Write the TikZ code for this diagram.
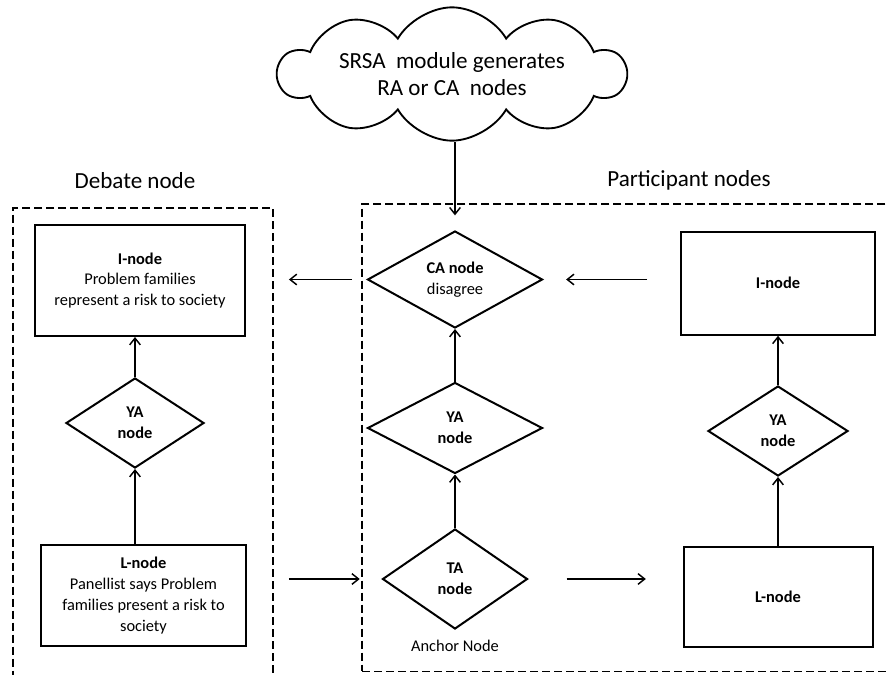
\documentclass[tikz,border=0pt]{standalone}
\usepackage{fontspec}
\setmainfont{Carlito}
\usetikzlibrary{shapes.geometric, shapes.symbols, arrows.meta, positioning}

\begin{document}
\begin{tikzpicture}[
    x=0.75pt, y=-0.75pt,
    boxtext/.style={font=\fontsize{12.3pt}{15.6pt}\selectfont, align=center},
    infobox/.style={rectangle, draw=black, line width=1.5pt, boxtext, inner sep=2pt},
    decision/.style={diamond, draw=black, line width=1.5pt, boxtext, inner sep=0pt},
    groupbox/.style={rectangle, draw=black, line width=1.4pt, dash pattern=on 6pt off 3pt, inner sep=0pt},
    heading/.style={font=\fontsize{17.3pt}{20.5pt}\selectfont, align=center},
    arrow/.style={line width=1.1pt, -{Straight Barb[length=5pt, width=8pt]}}
]

\useasboundingbox (0,0) rectangle (887,674);
\clip (0,0) rectangle (887,674);

\node (srsa) [cloud, cloud puffs=10, cloud puff arc=120, cloud ignores aspect, draw=black, line width=1.4pt, heading, minimum width=260pt, minimum height=100pt] at (452,74) {SRSA\ \ module generates\\RA or CA\ \ nodes};

\node (debate) [groupbox, minimum width=195.5pt, minimum height=369pt] at (143,454) {};
\node (part) [groupbox, minimum width=403.5pt, minimum height=350.6pt] at (631,437.75) {};

\node (debatelbl) [heading] at (135,181) {Debate node};
\node (partlbl) [heading] at (689,180) {Participant nodes};

\node (di) [infobox, minimum width=157.5pt, minimum height=83.25pt] at (140,280.5) {\textbf{I-node}\\Problem families\\represent a risk to society};
\node (dya) [decision, minimum width=103.5pt, minimum height=67.5pt] at (135,423) {\textbf{YA}\\\textbf{node}};
\node (dl) [infobox, minimum width=153.75pt, minimum height=75.75pt] at (143.5,595.5) {\textbf{L-node}\\Panellist says Problem\\families present a risk to\\society};

\node (ca) [decision, minimum width=131.25pt, minimum height=72.75pt] at (455,279.5) {\textbf{CA node}\\disagree};
\node (pya) [decision, minimum width=131.25pt, minimum height=68.25pt] at (455,428) {\textbf{YA}\\\textbf{node}};
\node (ta) [decision, minimum width=108.75pt, minimum height=75pt] at (455,579) {\textbf{TA}\\\textbf{node}};
\node (anchor) [boxtext] at (455,646) {Anchor Node};

\node (pi) [infobox, minimum width=145.5pt, minimum height=77.25pt] at (778,283.3) {\textbf{I-node}};
\node (rya) [decision, minimum width=105pt, minimum height=67.5pt] at (778,431) {\textbf{YA}\\\textbf{node}};
\node (pl) [infobox, minimum width=141.75pt, minimum height=75pt] at (778,596.7) {\textbf{L-node}};

\draw[arrow, shorten >=11pt] (srsa.south -| ca.north) -- (ca.north);
\draw[arrow, shorten <=6.75pt, shorten >=11pt] (part.west |- ca) -- (debate.east |- ca);
\draw[arrow, shorten <=24.75pt, shorten >=17pt] (pi.west |- ca) -- (ca.east);
\draw[arrow] (pya) -- (ca);
\draw[arrow] (ta) -- (pya);
\draw[arrow] (dya) -- (dya |- di.south);
\draw[arrow] (dl.north -| dya) -- (dya.south);
\draw[arrow, shorten <=11pt, shorten >=1pt] (debate.east |- ta) -- (part.west |- ta);
\draw[arrow, shorten <=28.5pt, shorten >=27.5pt] (ta.east) -- (pl.west |- ta);
\draw[arrow] (pl.north -| rya) -- (rya.south);
\draw[arrow] (rya) -- (pi);

\end{tikzpicture}
\end{document}
